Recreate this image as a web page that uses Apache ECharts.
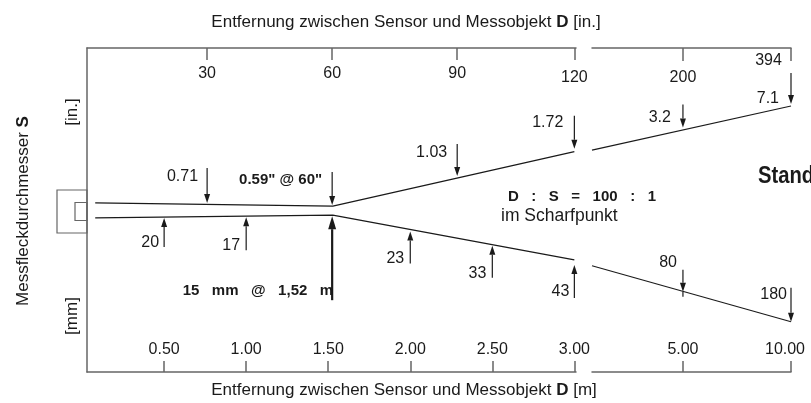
<!DOCTYPE html>
<html>
<head>
<meta charset="utf-8">
<script src="https://cdn.jsdelivr.net/npm/echarts@6/dist/echarts.min.js"></script>
<style>
html,body{margin:0;padding:0;background:#fff;}
#chart{width:811px;height:403px;}
</style>
</head>
<body>
<div id="chart"></div>
<script>
// ---------- data ----------
// bottom axis (metres)
const bottomTicksNear = [0.5, 1.0, 1.5, 2.0, 2.5, 3.0];
const bottomLabelsNear = ['0.50', '1.00', '1.50', '2.00', '2.50', '3.00'];
const bottomTicksFar = [5, 10];
const bottomLabelsFar = ['5.00', '10.00'];
// top axis (inches, placed at their metre positions)
const topTicksNear = [0.762, 1.524, 2.286, 3.0];
const topLabelsNear = ['30', '60', '90', '120'];
const topTicksFar = [5, 10];
const topLabelsFar = ['200', '394'];

// beam outline (schematic, vertical units 0..100)
const beamNearX = [0.08, 1.528, 3.0];
const beamNearUpper = [52.2, 51.2, 68.0];
const beamNearLower = [47.6, 48.4, 34.6];
const beamFarX = [2.79, 10];
const beamFarUpper = [68.5, 82.1];
const beamFarLower = [32.8, 15.5];

// spot size annotations
const inchPos = [0.762, 1.524, 2.286, 3.0, 5.0, 10.0];
const inchLabels = ['0.71', '0.59" @ 60"', '1.03', '1.72', '3.2', '7.1'];
const mmPos = [0.5, 1.0, 1.524, 2.0, 2.5, 3.0, 5.0, 10.0];
const mmLabels = ['20', '17', '15   mm   @   1,52   m', '23', '33', '43', '80', '180'];

// ---------- styling ----------
const FONT = '"Liberation Sans", Arial, Helvetica, sans-serif';
const INK = '#1a1a1a';
const AXIS = '#666666';

const inchStyles = [
  {dir: 'down', len: 35, off: -1.5, lx: -9, ly: 9},
  {dir: 'down', len: 33, off: -1, lx: -10, ly: 8, bold: true},
  {dir: 'down', len: 32, off: -2, lx: -10, ly: 9},
  {dir: 'down', len: 33, off: -3, lx: -11, ly: 7},
  {dir: 'down', len: 23, off: -2.5, lx: -12, ly: 13},
  {dir: 'down', len: 31, off: -2, lx: -12, ly: 26}
];
const mmStyles = [
  {dir: 'up', len: 29, off: 1, lx: -5, ly: -4},
  {dir: 'up', len: 33, off: 1, lx: -6, ly: -5},
  {dir: 'up', len: 84, off: 1, lx: 1, ly: -9, bold: true, thick: true},
  {dir: 'up', len: 32, off: 2, lx: -6, ly: -5},
  {dir: 'up', len: 32, off: 1, lx: -6, ly: -4},
  {dir: 'up', len: 33, off: 5, lx: -5, ly: -6},
  {dir: 'down', len: 22, off: 0.5, ext: 5, lx: -6, ly: -7},
  {dir: 'down', len: 34, off: 0, lx: -4, ly: 7}
];

function lookup(v, ticks, labels) {
  for (let i = 0; i < ticks.length; i++) if (Math.abs(v - ticks[i]) < 1e-6) return labels[i];
  return '';
}

function arrowSeries(xIdx, yIdx, xs, labels, styles, keep, bx, by) {
  const data = [];
  xs.forEach((x, i) => { if (keep(x)) data.push([x, 50, i]); });
  return {
    type: 'custom', xAxisIndex: xIdx, yAxisIndex: yIdx, data: data,
    encode: {x: 0, y: 1}, silent: true, z: 5,
    renderItem: function (params, api) {
      const x = api.value(0), i = api.value(2), st = styles[i];
      const px = api.coord([x, 50])[0];
      let k = 0;
      while (k < bx.length - 2 && x > bx[k + 1]) k++;
      const a = api.coord([bx[k], by[k]]), b = api.coord([bx[k + 1], by[k + 1]]);
      const beamY = a[1] + (px - a[0]) / (b[0] - a[0]) * (b[1] - a[1]);
      const tip = beamY + st.off;
      const s = st.dir === 'down' ? -1 : 1;
      const tail = tip + s * st.len;
      const hl = st.thick ? 13 : 9, hw = st.thick ? 8 : 6;
      const base = tip + s * hl;
      const lw = st.thick ? 2.2 : 1.2;
      const children = [
        {type: 'line', shape: {x1: px, y1: tail, x2: px, y2: base}, style: {stroke: INK, lineWidth: lw}},
        {type: 'polygon', shape: {points: [[px - hw / 2, base], [px + hw / 2, base], [px, tip]]}, style: {fill: INK}},
        {type: 'text', style: {
          text: labels[i], x: px + st.lx, y: tail + st.ly,
          align: 'right', verticalAlign: 'middle',
          font: (st.bold ? 'bold 15px ' : '16px ') + FONT, fill: INK
        }}
      ];
      if (st.ext) children.push({type: 'line', shape: {x1: px, y1: tip, x2: px, y2: tip - s * st.ext}, style: {stroke: INK, lineWidth: lw}});
      return {type: 'group', children: children};
    }
  };
}

const lineCommon = {type: 'line', symbol: 'none', silent: true, lineStyle: {color: INK, width: 1.2}};
const axLine = {show: true, onZero: false, lineStyle: {color: AXIS, width: 1.5}};
const labelBase = {inside: true, fontSize: 16, color: INK, fontFamily: FONT};
const topRich = {
  a: {padding: [14, 0, 0, 0], fontSize: 16, color: INK, fontFamily: FONT},
  c: {padding: [18, 0, 0, 0], fontSize: 16, color: INK, fontFamily: FONT},
  r: {padding: [1, 45, 0, 0], fontSize: 16, color: INK, fontFamily: FONT}
};
const botRich = {
  n: {fontSize: 16, color: INK, fontFamily: FONT},
  e: {padding: [0, 12, 0, 0], fontSize: 16, color: INK, fontFamily: FONT}
};

const chart = echarts.init(document.getElementById('chart'), null, {renderer: 'canvas'});
const option = {
  animation: false,
  backgroundColor: '#ffffff',
  grid: [
    {left: 87, top: 48, width: 489, height: 324},
    {left: 592, top: 48, width: 199, height: 324}
  ],
  xAxis: [
    {gridIndex: 0, type: 'value', position: 'bottom', min: 0.03, max: 3.01,
      axisLine: axLine, splitLine: {show: false},
      axisTick: {inside: true, length: 11, customValues: bottomTicksNear, lineStyle: {color: AXIS, width: 1.5}},
      axisLabel: Object.assign({}, labelBase, {margin: 14, customValues: bottomTicksNear,
        formatter: v => lookup(v, bottomTicksNear, bottomLabelsNear)})},
    {gridIndex: 0, type: 'value', position: 'top', min: 0.03, max: 3.01,
      axisLine: axLine, splitLine: {show: false},
      axisTick: {inside: true, length: 12, customValues: topTicksNear, lineStyle: {color: AXIS, width: 1.5}},
      axisLabel: Object.assign({}, labelBase, {margin: 4, customValues: topTicksNear, rich: topRich,
        formatter: v => { const t = lookup(v, topTicksNear, topLabelsNear); return (t === '120' ? '{c|' : '{a|') + t + '}'; }})},
    {gridIndex: 1, type: 'log', logBase: 10, position: 'bottom', min: 2.79, max: 10,
      axisLine: axLine, splitLine: {show: false}, minorTick: {show: false},
      axisTick: {inside: true, length: 11, customValues: bottomTicksFar, lineStyle: {color: AXIS, width: 1.5}},
      axisLabel: Object.assign({}, labelBase, {margin: 14, customValues: bottomTicksFar, rich: botRich,
        formatter: v => { const t = lookup(v, bottomTicksFar, bottomLabelsFar); return (t === '10.00' ? '{e|' : '{n|') + t + '}'; }})},
    {gridIndex: 1, type: 'log', logBase: 10, position: 'top', min: 2.79, max: 10,
      axisLine: axLine, splitLine: {show: false}, minorTick: {show: false},
      axisTick: {inside: true, length: 13, customValues: topTicksFar, lineStyle: {color: AXIS, width: 1.5}},
      axisLabel: Object.assign({}, labelBase, {margin: 4, customValues: topTicksFar, rich: topRich,
        formatter: v => { const t = lookup(v, topTicksFar, topLabelsFar); return (t === '394' ? '{r|' : '{c|') + t + '}'; }})}
  ],
  yAxis: [
    {gridIndex: 0, type: 'value', min: 0, max: 100, axisLine: axLine,
      axisTick: {show: false}, axisLabel: {show: false}, splitLine: {show: false}},
    {gridIndex: 1, type: 'value', min: 0, max: 100, show: false, splitLine: {show: false}}
  ],
  series: [
    Object.assign({}, lineCommon, {xAxisIndex: 0, yAxisIndex: 0, data: beamNearX.map((x, i) => [x, beamNearUpper[i]])}),
    Object.assign({}, lineCommon, {xAxisIndex: 0, yAxisIndex: 0, data: beamNearX.map((x, i) => [x, beamNearLower[i]])}),
    Object.assign({}, lineCommon, {xAxisIndex: 2, yAxisIndex: 1, data: beamFarX.map((x, i) => [x, beamFarUpper[i]])}),
    Object.assign({}, lineCommon, {xAxisIndex: 2, yAxisIndex: 1, data: beamFarX.map((x, i) => [x, beamFarLower[i]])}),
    arrowSeries(0, 0, inchPos, inchLabels, inchStyles, x => x <= 3, beamNearX, beamNearUpper),
    arrowSeries(2, 1, inchPos, inchLabels, inchStyles, x => x > 3, beamFarX, beamFarUpper),
    arrowSeries(0, 0, mmPos, mmLabels, mmStyles, x => x <= 3, beamNearX, beamNearLower),
    arrowSeries(2, 1, mmPos, mmLabels, mmStyles, x => x > 3, beamFarX, beamFarLower)
  ],
  graphic: [
    {type: 'rect', shape: {x: 57, y: 190, width: 30, height: 43}, style: {fill: 'none', stroke: AXIS, lineWidth: 1.2}},
    {type: 'rect', shape: {x: 75, y: 202.5, width: 12, height: 18}, style: {fill: 'none', stroke: AXIS, lineWidth: 1.2}},
    {type: 'text', x: 406, y: 22, style: {
      text: 'Entfernung zwischen Sensor und Messobjekt {b|D} [in.]',
      rich: {b: {fontWeight: 'bold', fontSize: 17, fontFamily: FONT, fill: INK}},
      fontSize: 17, fontFamily: FONT, fill: INK, align: 'center', verticalAlign: 'middle'}},
    {type: 'text', x: 404, y: 390, style: {
      text: 'Entfernung zwischen Sensor und Messobjekt {b|D} [m]',
      rich: {b: {fontWeight: 'bold', fontSize: 17, fontFamily: FONT, fill: INK}},
      fontSize: 17, fontFamily: FONT, fill: INK, align: 'center', verticalAlign: 'middle'}},
    {type: 'text', x: 23, y: 211, rotation: Math.PI / 2, style: {
      text: 'Messfleckdurchmesser {b|S}',
      rich: {b: {fontWeight: 'bold', fontSize: 17, fontFamily: FONT, fill: INK}},
      fontSize: 17, fontFamily: FONT, fill: INK, align: 'center', verticalAlign: 'middle'}},
    {type: 'text', x: 72, y: 112, rotation: Math.PI / 2, style: {
      text: '[in.]', fontSize: 17, fontFamily: FONT, fill: INK, align: 'center', verticalAlign: 'middle'}},
    {type: 'text', x: 72, y: 316, rotation: Math.PI / 2, style: {
      text: '[mm]', fontSize: 17, fontFamily: FONT, fill: INK, align: 'center', verticalAlign: 'middle'}},
    {type: 'text', x: 508, y: 197, style: {
      text: 'D   :   S   =   100   :   1', fontSize: 15, fontWeight: 'bold', fontFamily: FONT, fill: INK, align: 'left', verticalAlign: 'middle'}},
    {type: 'text', x: 501, y: 216, style: {
      text: 'im Scharfpunkt', fontSize: 17.5, fontFamily: FONT, fill: INK, align: 'left', verticalAlign: 'middle'}},
    {type: 'text', x: 758, y: 177, scaleX: 0.88, style: {
      text: 'Standard', fontSize: 23, fontWeight: 'bold', fontFamily: FONT, fill: INK, align: 'left', verticalAlign: 'middle'}}
  ]
};
chart.setOption(option);
</script>
</body>
</html>
